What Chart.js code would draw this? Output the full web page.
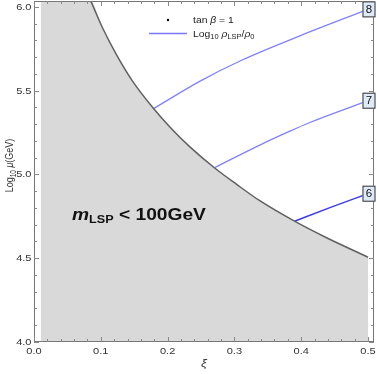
<!DOCTYPE html>
<html>
<head>
<meta charset="utf-8">
<script src="https://cdn.jsdelivr.net/npm/chart.js@4/dist/chart.umd.min.js"></script>
<style>
  body { margin: 0; background: #fff; }
  canvas { display: block; }
</style>
</head>
<body>
<canvas id="myChart" width="377" height="374"></canvas>
<script>
// boundary of the m_LSP < 100 GeV region
const boundaryXi = [0.085, 0.102, 0.123, 0.147, 0.179, 0.203, 0.233, 0.270, 0.303, 0.338, 0.390, 0.438, 0.500];
const boundaryLogMu = [6.035, 5.880, 5.718, 5.560, 5.393, 5.285, 5.166, 5.040, 4.942, 4.843, 4.721, 4.622, 4.506];
const shadeStartXi = 0.01;

// Log10 rho_LSP/rho_0 contours
const line8Xi = [0.179, 0.250, 0.310, 0.400, 0.500];
const line8LogMu = [5.393, 5.560, 5.680, 5.830, 5.985];
const line7Xi = [0.270, 0.338, 0.383, 0.413, 0.500];
const line7LogMu = [5.040, 5.175, 5.258, 5.310, 5.440];
const line6Xi = [0.390, 0.445, 0.500];
const line6LogMu = [4.721, 4.805, 4.885];
const contourLabels = ['8', '7', '6'];

const xTicks = [0, 0.1, 0.2, 0.3, 0.4, 0.5];
const xTickLabels = ['0.0', '0.1', '0.2', '0.3', '0.4', '0.5'];
const yTicks = [4.0, 4.5, 5.0, 5.5, 6.0];
const yTickLabels = ['4.0', '4.5', '5.0', '5.5', '6.0'];

const X_MIN = 0, X_MAX = 0.509, Y_MIN = 4.0, Y_MAX = 6.035;
const SX = 1.3; // the original picture is a bit stretched sideways
const FONT = '"Liberation Sans", Arial, sans-serif';

function pts(xs, ys) {
  return xs.map((x, i) => ({x: x, y: ys[i]}));
}

// draws a row of text pieces (for subscripts)
function rich(ctx, segs, x, y, align, sx) {
  ctx.save();
  ctx.translate(x, y);
  ctx.scale(sx, 1);
  let w = 0;
  segs.forEach(s => { ctx.font = s.font; w += ctx.measureText(s.t).width; });
  let cx = align === 'center' ? -w / 2 : (align === 'right' ? -w : 0);
  ctx.textAlign = 'left';
  ctx.textBaseline = 'alphabetic';
  segs.forEach(s => {
    ctx.font = s.font;
    ctx.fillStyle = s.color || '#222';
    ctx.fillText(s.t, cx, s.dy || 0);
    cx += ctx.measureText(s.t).width;
  });
  ctx.restore();
}

const decor = {
  id: 'decor',
  afterDatasetsDraw(chart) {
    const ctx = chart.ctx;
    const a = chart.chartArea;
    const xs = chart.scales.x, ys = chart.scales.y;

    // frame
    ctx.save();
    ctx.strokeStyle = '#777';
    ctx.lineWidth = 1;
    ctx.strokeRect(a.left + 0.5, a.top + 0.5, a.right - a.left - 1, a.bottom - a.top - 1);

    // ticks on all four sides, pointing inward
    ctx.strokeStyle = '#888';
    ctx.beginPath();
    for (let v = 0; v <= 0.5001; v += 0.02) {
      const px = Math.round(xs.getPixelForValue(v)) + 0.5;
      const major = Math.abs(v * 10 - Math.round(v * 10)) < 1e-6;
      const len = major ? 5 : 3;
      ctx.moveTo(px, a.bottom); ctx.lineTo(px, a.bottom - len);
      ctx.moveTo(px, a.top); ctx.lineTo(px, a.top + len);
    }
    for (let v = 4.0; v <= 6.0001; v += 0.1) {
      const py = Math.round(ys.getPixelForValue(v)) + 0.5;
      const major = Math.abs(v * 2 - Math.round(v * 2)) < 1e-6;
      const len = major ? 5 : 3;
      ctx.moveTo(a.left, py); ctx.lineTo(a.left + len, py);
      ctx.moveTo(a.right, py); ctx.lineTo(a.right - len, py);
    }
    ctx.stroke();
    ctx.restore();

    // tick labels
    const tf = '8.5px ' + FONT;
    xs.ticks.forEach((t, i) => {
      rich(ctx, [{t: xTickLabels[i], font: tf, color: '#333'}], xs.getPixelForValue(t.value), a.bottom + 11.5, 'center', SX);
    });
    ys.ticks.forEach((t, i) => {
      rich(ctx, [{t: yTickLabels[i], font: tf, color: '#333'}], a.left - 2.5, ys.getPixelForValue(t.value) + 3, 'right', SX);
    });

    // axis titles
    rich(ctx, [{t: 'ξ', font: 'italic 10px ' + FONT, color: '#333'}], (a.left + a.right) / 2, 367, 'center', SX);
    ctx.save();
    ctx.translate(9.5, (a.top + a.bottom) / 2 - 6);
    ctx.scale(SX, 1);
    ctx.rotate(-Math.PI / 2);
    rich(ctx, [
      {t: 'Log', font: '9px ' + FONT, color: '#333'},
      {t: '10', font: '6.5px ' + FONT, dy: 2, color: '#333'},
      {t: ' ', font: '9px ' + FONT},
      {t: 'μ', font: 'italic 9px ' + FONT, color: '#333'},
      {t: '(GeV)', font: '9px ' + FONT, color: '#333'}
    ], 0, 3, 'center', 1);
    ctx.restore();

    // region label
    rich(ctx, [
      {t: 'm', font: 'italic bold 16px ' + FONT, color: '#111'},
      {t: 'LSP', font: 'bold 10.5px ' + FONT, dy: 3, color: '#111'},
      {t: ' < 100GeV', font: 'bold 16px ' + FONT, color: '#111'}
    ], 72, 219.5, 'left', 1.2);

    // contour labels in boxes
    const ends = [[line8Xi, line8LogMu], [line7Xi, line7LogMu], [line6Xi, line6LogMu]];
    ends.forEach((e, i) => {
      const n = e[0].length - 1;
      const cx = xs.getPixelForValue(e[0][n]) + 1;
      const cy = ys.getPixelForValue(e[1][n]);
      ctx.save();
      ctx.fillStyle = '#dfeaf7';
      ctx.strokeStyle = '#333';
      ctx.lineWidth = 1;
      ctx.fillRect(cx - 6.5, cy - 8, 13, 16);
      ctx.strokeRect(cx - 6.5 + 0.5, cy - 8 + 0.5, 12, 15);
      ctx.restore();
      rich(ctx, [{t: contourLabels[i], font: '10px ' + FONT, color: '#111'}], cx, cy + 3.5, 'center', 1.15);
    });

    // legend
    ctx.save();
    ctx.fillStyle = '#000';
    ctx.beginPath();
    ctx.arc(168, 20, 1.2, 0, Math.PI * 2);
    ctx.fill();
    ctx.strokeStyle = 'rgb(120,120,255)';
    ctx.lineWidth = 1.3;
    ctx.beginPath();
    ctx.moveTo(149, 33.5); ctx.lineTo(187, 33.5);
    ctx.stroke();
    ctx.restore();
    rich(ctx, [
      {t: 'tan ', font: '9px ' + FONT},
      {t: 'β', font: 'italic 9px ' + FONT},
      {t: ' = 1', font: '9px ' + FONT}
    ], 193, 23, 'left', 1.15);
    rich(ctx, [
      {t: 'Log', font: '9px ' + FONT},
      {t: '10', font: '6.5px ' + FONT, dy: 2},
      {t: ' ρ', font: 'italic 9px ' + FONT},
      {t: 'LSP', font: '6.5px ' + FONT, dy: 2},
      {t: '/', font: '9px ' + FONT},
      {t: 'ρ', font: 'italic 9px ' + FONT},
      {t: '0', font: '6.5px ' + FONT, dy: 2}
    ], 193, 36.5, 'left', 1.15);
  }
};

const ctx = document.getElementById('myChart').getContext('2d');
const myChart = new Chart(ctx, {
  type: 'line',
  data: {
    datasets: [
      {
        // shaded region, kept underneath everything else
        data: [{x: shadeStartXi, y: Y_MAX}].concat(pts(boundaryXi, boundaryLogMu)),
        borderWidth: 0,
        borderColor: 'rgba(0,0,0,0)',
        backgroundColor: '#d9d9d9',
        fill: 'start',
        order: 10,
        cubicInterpolationMode: 'monotone'
      },
      {
        data: pts(boundaryXi, boundaryLogMu),
        borderColor: '#606060',
        borderWidth: 1.5,
        fill: false,
        cubicInterpolationMode: 'monotone'
      },
      {
        data: pts(line8Xi, line8LogMu),
        borderColor: 'rgb(128,128,255)',
        borderWidth: 1.3,
        fill: false,
        cubicInterpolationMode: 'monotone'
      },
      {
        data: pts(line7Xi, line7LogMu),
        borderColor: 'rgb(128,128,255)',
        borderWidth: 1.3,
        fill: false,
        cubicInterpolationMode: 'monotone'
      },
      {
        data: pts(line6Xi, line6LogMu),
        borderColor: 'rgb(60,60,235)',
        borderWidth: 1.5,
        fill: false,
        cubicInterpolationMode: 'monotone'
      }
    ]
  },
  options: {
    responsive: false,
    animation: false,
    layout: {padding: {top: 1, right: 3, left: 0, bottom: 0}},
    elements: {point: {radius: 0}},
    plugins: {legend: {display: false}, tooltip: {enabled: false}},
    scales: {
      x: {
        type: 'linear', min: X_MIN, max: X_MAX,
        grid: {display: false}, border: {display: false},
        ticks: {display: false},
        afterBuildTicks: s => { s.ticks = xTicks.map(v => ({value: v})); },
        afterFit: s => { s.height = 32; }
      },
      y: {
        type: 'linear', min: Y_MIN, max: Y_MAX,
        grid: {display: false}, border: {display: false},
        ticks: {display: false},
        afterBuildTicks: s => { s.ticks = yTicks.map(v => ({value: v})); },
        afterFit: s => { s.width = 34; }
      }
    }
  },
  plugins: [decor]
});
</script>
</body>
</html>
